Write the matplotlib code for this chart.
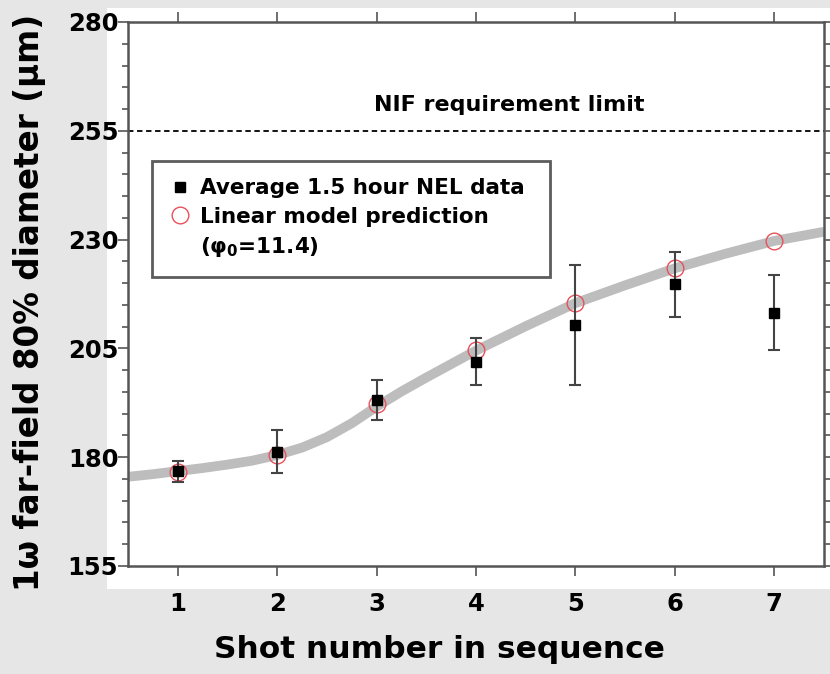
import numpy as np
import matplotlib.pyplot as plt
from matplotlib.patches import Rectangle
from matplotlib.ticker import MultipleLocator

plt.rcParams['font.family'] = ['DejaVu Sans']
plt.rcParams['font.weight'] = 'bold'
plt.rcParams['axes.labelweight'] = 'bold'
plt.rcParams['mathtext.fontset'] = 'dejavusans'
plt.rcParams['mathtext.default'] = 'bf'

# data
shots = [1, 2, 3, 4, 5, 6, 7]
nel_mean = [176.8, 181.3, 193.1, 201.9, 210.4, 219.7, 213.2]
nel_err = [2.4, 5.0, 4.6, 5.4, 13.7, 7.4, 8.6]
model_pred = [176.7, 180.5, 192.2, 204.6, 215.4, 223.5, 229.7]

curve_x = [0.5, 0.75, 1.0, 1.25, 1.5, 1.75, 2.0, 2.25, 2.5, 2.75, 3.0, 3.25, 3.5,
           3.75, 4.0, 4.5, 5.0, 5.5, 6.0, 6.5, 7.0, 7.5]
curve_y = [175.5, 176.1, 176.8, 177.5, 178.3, 179.2, 180.5, 182.2, 184.6, 187.8,
           191.6, 195.1, 198.3, 201.4, 204.5, 210.1, 215.4, 219.5, 223.4, 226.7,
           229.7, 231.8]

nif_limit = 255

fig = plt.figure(figsize=(8.3, 6.74), dpi=100, facecolor='#e6e6e6')
fig.patches.append(Rectangle((107/830, 1-589/674), 1-107/830, 581/674,
                             transform=fig.transFigure, facecolor='white',
                             edgecolor='none', zorder=0))
ax = fig.add_axes([128/830, 1-566/674, 696/830, 544/674])
ax.set_zorder(2)

ax.plot(curve_x, curve_y, color='#bdbdbd', lw=7, solid_capstyle='butt',
        solid_joinstyle='round', zorder=1)
circ, = ax.plot(shots, model_pred, 'o', ms=12, mfc='none', mec='#e8505b', mew=1.0, zorder=2)
ax.errorbar(shots, nel_mean, yerr=nel_err, fmt='none', ecolor='#444444',
            elinewidth=1.5, capsize=4, capthick=1.5, zorder=3)
sq, = ax.plot(shots, nel_mean, 's', color='black', ms=7, zorder=4)
ax.axhline(nif_limit, color='black', lw=1.3, ls=(0, (3, 2)), zorder=1)
ax.text(4.33, 260.9, 'NIF requirement limit', ha='center', va='center', fontsize=16)

ax.set_xlim(0.5, 7.5)
ax.set_ylim(155, 280)
ax.set_xticks(shots)
ax.set_yticks([155, 180, 205, 230, 255, 280])
ax.yaxis.set_minor_locator(MultipleLocator(5))
ax.tick_params(axis='both', which='major', labelsize=17.5, direction='out',
               length=7, width=1.2, color='#555555', top=True, right=True)
ax.tick_params(axis='y', which='minor', direction='out', length=4, width=1.2,
               color='#555555', left=True, right=True)
ax.tick_params(axis='x', pad=12)
ax.tick_params(axis='y', pad=0)
for s in ax.spines.values():
    s.set_color('#555555')
    s.set_linewidth(1.8)

ax.set_xlabel('Shot number in sequence', fontsize=22.5)
ax.xaxis.set_label_coords(0.448, -0.127)
ax.set_ylabel('1\u03c9 far-field 80% diameter (\u03bcm)', fontsize=23.5)
ax.yaxis.set_label_coords(-0.118, 0.485)

blank = plt.Line2D([], [], ls='none', marker='none')
leg = ax.legend([sq, circ, blank],
                ['Average 1.5 hour NEL data', 'Linear model prediction',
                 '(\u03c6$_0$=11.4)'],
                loc='upper left', bbox_to_anchor=(0.034, 0.537, 0.573, 0.2075),
                mode='expand', fontsize=15.5, frameon=True, fancybox=False,
                handlelength=1.0, handletextpad=0.45, borderpad=0.8,
                labelspacing=0.4, borderaxespad=0)
leg.get_frame().set_edgecolor('#333333')
leg.get_frame().set_linewidth(2)

fig.savefig('out.png', dpi=100, facecolor=fig.get_facecolor())
